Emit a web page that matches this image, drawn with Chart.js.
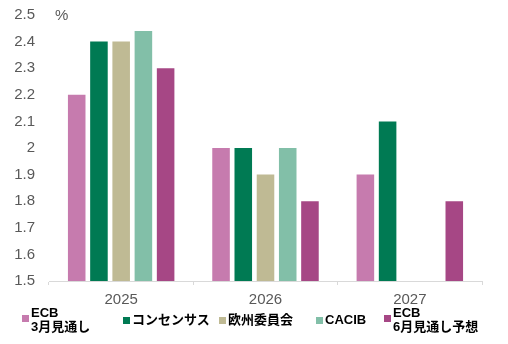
<!DOCTYPE html>
<html>
<head>
<meta charset="utf-8">
<script src="https://cdn.jsdelivr.net/npm/chart.js@4"></script>
<style>
    body { margin: 0; background: #fff; }
    #wrap { position: relative; width: 508px; height: 344px; }
    #unit { position: absolute; left: 55px; top: 6px; font: 15px "Liberation Sans", Arial, sans-serif; color: #595959; }
    .lg { position: absolute; font: bold 13px "Liberation Sans", Arial, "Noto Sans CJK JP", sans-serif; color: #000; line-height: 14px; white-space: nowrap; }
    .lg i { position: absolute; width: 7px; height: 7px; left: -9px; }
</style>
</head>
<body>
<div id="wrap">
    <canvas id="ecbChart"></canvas>
    <div id="unit">%</div>
    <div id="legend"></div>
</div>
<script>
// data
let categories = ["2025", "2026", "2027"];
let seriesNames = [["ECB", "3月見通し"], ["コンセンサス"], ["欧州委員会"], ["CACIB"], ["ECB", "6月見通し予想"]];
let ecbMarch = [2.2, 2.0, 1.9];
let consensus = [2.4, 2.0, 2.1];
let euCommission = [2.4, 1.9, null];
let cacib = [2.44, 2.0, null];
let ecbJune = [2.3, 1.8, 1.8];

let colors = ["#C67BAE", "#007A53", "#BFBA94", "#82BFA8", "#A64785"];
let legendX = [31, 132, 228, 325, 393];

let allSeries = [ecbMarch, consensus, euCommission, cacib, ecbJune];

let datasets = allSeries.map((vals, i) => ({
    label: seriesNames[i].join(" "),
    data: vals,
    backgroundColor: colors[i],
    categoryPercentage: 0.77,
    barPercentage: 0.79
}));

let ctx = document.getElementById("ecbChart");

new Chart(ctx, {
    type: "bar",
    data: { labels: categories, datasets: datasets },
    options: {
        responsive: true,
        maintainAspectRatio: false,
        animation: false,
        layout: { padding: { left: 14, right: 26, top: 15, bottom: 29 } },
        plugins: {
            legend: { display: false },
            tooltip: { enabled: false }
        },
        scales: {
            x: {
                grid: { drawOnChartArea: false, color: "#D9D9D9", tickLength: 4, offset: true },
                border: { color: "#D9D9D9" },
                ticks: { color: "#595959", font: { family: "Liberation Sans", size: 15 }, padding: 6 }
            },
            y: {
                min: 1.5,
                max: 2.5,
                // fixed label column, no extra top padding
                afterFit: s => { s.width = 35; s.paddingTop = 0; s.paddingBottom = 0; },
                grid: { display: false, drawTicks: false, tickLength: 0 },
                border: { display: false },
                ticks: {
                    stepSize: 0.1,
                    padding: 14,
                    color: "#595959",
                    font: { family: "Liberation Sans", size: 15 },
                    callback: v => String(Number(v.toFixed(1)))
                }
            }
        }
    }
});

// legend with two-line labels
let legend = document.getElementById("legend");
seriesNames.forEach((name, i) => {
    let item = document.createElement("div");
    item.className = "lg";
    item.style.left = legendX[i] + "px";
    item.style.top = (name.length > 1 ? 306 : 313) + "px";
    item.innerHTML = '<i style="background:' + colors[i] + ';top:' + (name.length > 1 ? 9 : 4) + 'px"></i>' + name.join("<br>");
    legend.appendChild(item);
});
</script>
</body>
</html>
